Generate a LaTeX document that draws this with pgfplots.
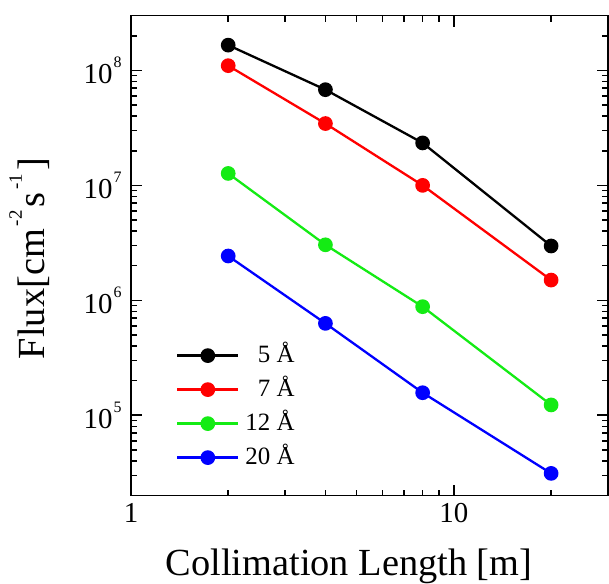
\documentclass[border=0pt]{standalone}
\usepackage{fontspec}
\setmainfont{Liberation Serif}
\usepackage{pgfplots}
\pgfplotsset{compat=1.18}
\definecolor{cgreen}{RGB}{20,235,20}
% raised exponents, sized like the original figure
\newcommand\tsup[1]{\kern1bp\raisebox{16bp}{\fontsize{16}{16}\selectfont #1}}
\newcommand\lsup[1]{\kern3bp\raisebox{23bp}{\fontsize{19}{19}\selectfont #1}\kern3bp}

\begin{document}
\begin{tikzpicture}
\begin{axis}[
  name=ax,
  xmode=log, ymode=log,
  scale only axis,
  width=477bp, height=480bp,
  xmin=1, xmax=30, ymin=2e4, ymax=3e8,
  axis line style={line width=1.8bp},
  every tick/.style={black, line width=1.5bp},
  major tick length=11bp, minor tick length=6bp,
  tick align=inside,
  xtick={1,10}, xticklabels={1,10},
  minor xtick={2,3,4,5,6,7,8,9,20,30},
  ytick={1e5,1e6,1e7,1e8},
  yticklabels={10\tsup{5},10\tsup{6},10\tsup{7},10\tsup{8}},
  minor ytick={2e4,3e4,4e4,5e4,6e4,7e4,8e4,9e4,
               2e5,3e5,4e5,5e5,6e5,7e5,8e5,9e5,
               2e6,3e6,4e6,5e6,6e6,7e6,8e6,9e6,
               2e7,3e7,4e7,5e7,6e7,7e7,8e7,9e7,
               2e8,3e8},
  tick label style={font=\fontsize{29}{33}\selectfont},
  xticklabel style={yshift=-4bp},
  yticklabel style={xshift=-6bp},
  xlabel={Collimation Length [m]},
  ylabel={Flux[cm\lsup{-2}s\lsup{-1}]},
  label style={font=\fontsize{38.5}{44}\selectfont},
  xlabel style={at={(axis description cs:0.457,-0.166)}, anchor=base},
  ylabel style={at={(axis description cs:-0.1803,0.494)}, anchor=base},
  every axis plot/.append style={line width=2.3bp, mark=*, mark size=6.2bp},
  legend cell align=right,
  legend image code/.code={
    \draw[#1, mark=none] (0bp,0bp) -- (61bp,0bp);
    \draw[#1, only marks] plot coordinates {(30.5bp,0bp)};
  },
  legend style={
    draw=none, fill=none, inner sep=0pt,
    at={(axis description cs:0.0943,0.316)}, anchor=north west,
    font=\fontsize{25}{29}\selectfont,
    row sep=11bp, column sep=6bp,
    nodes={inner sep=0pt, text height=18bp, text depth=5bp},
  },
]
\addplot[black, mark options={fill=black}] coordinates {(2,1.66e8) (4,6.8e7) (8,2.34e7) (20,2.97e6)};
\addlegendentry{5 Å}
\addplot[red, mark options={fill=red}] coordinates {(2,1.10e8) (4,3.45e7) (8,1.0e7) (20,1.5e6)};
\addlegendentry{7 Å}
\addplot[cgreen, mark options={fill=cgreen}] coordinates {(2,1.27e7) (4,3.04e6) (8,8.8e5) (20,1.23e5)};
\addlegendentry{12 Å}
\addplot[blue, mark options={fill=blue}] coordinates {(2,2.43e6) (4,6.3e5) (8,1.57e5) (20,3.12e4)};
\addlegendentry{20 Å}
\end{axis}
\pgfresetboundingbox
\path[use as bounding box] ([shift={(-131bp,-87.5bp)}]ax.south west) rectangle ([shift={(1bp,15.6bp)}]ax.north east);
\end{tikzpicture}
\end{document}
